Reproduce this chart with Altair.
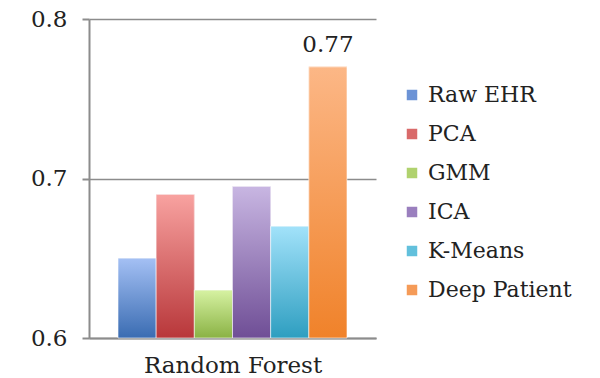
import altair as alt
import pandas as pd

methods = ["Raw EHR", "PCA", "GMM", "ICA", "K-Means", "Deep Patient"]
values = [0.65, 0.69, 0.63, 0.695, 0.67, 0.77]
top_colors = ["#a4c0f4", "#f8a2a0", "#d6f2a2", "#c8b6e2", "#a2e2fa", "#fcb786"]
bottom_colors = ["#3a6cb2", "#b8373a", "#8ab244", "#6f4e96", "#2e9ec0", "#f0822a"]
mid_colors = ["#6c93d6", "#d96a6a", "#b0d26e", "#9a7fbe", "#62c0dc", "#f59b58"]
y_ticks = [0.6, 0.7, 0.8]
group_label = "Random Forest"
annotation = "0.77"

df = pd.DataFrame({"method": methods, "value": values, "group": group_label})
FONT = "DejaVu Serif"

xenc = alt.X("method:N", sort=methods,
             scale=alt.Scale(paddingInner=0, paddingOuter=0.76),
             axis=alt.Axis(title=group_label, labels=False, ticks=False,
                           titleFont=FONT, titleFontSize=23, titleFontWeight="normal",
                           titleColor="#222", titlePadding=16,
                           domainColor="#8c8c8c", domainWidth=2))
yenc = alt.Y("value:Q",
             scale=alt.Scale(domain=[0.6, 0.8], zero=False, nice=False),
             axis=alt.Axis(title=None, values=y_ticks, format=".1f",
                           labelFont=FONT, labelFontSize=23, labelColor="#222",
                           labelPadding=15, tickSize=7, tickColor="#8c8c8c", tickWidth=2,
                           domainColor="#8c8c8c", domainWidth=2,
                           grid=True, gridColor="#8c8c8c", gridWidth=1.5))

base = alt.Chart(df)

legend_layer = base.mark_bar().encode(
    x=xenc, y=yenc, y2=alt.datum(0.6),
    color=alt.Color("method:N", sort=methods,
                    scale=alt.Scale(domain=methods, range=mid_colors),
                    legend=alt.Legend(title=None, orient="none", legendX=312, legendY=65,
                                      symbolType="square", symbolSize=110,
                                      symbolStrokeWidth=0, labelFont=FONT,
                                      labelFontSize=22, labelColor="#222",
                                      rowPadding=17, labelOffset=5, labelLimit=300)),
)

layers = [legend_layer]
for m, t, b in zip(methods, top_colors, bottom_colors):
    grad = alt.Gradient(gradient="linear",
                        stops=[alt.GradientStop(color=t, offset=0),
                               alt.GradientStop(color=b, offset=1)],
                        x1=0, x2=0, y1=0, y2=1)
    layers.append(
        base.transform_filter(alt.datum.method == m).mark_bar(color=grad, stroke="white",
                                                             strokeWidth=0.6).encode(
            x=xenc, y=yenc, y2=alt.datum(0.6))
    )

text_layer = base.transform_filter(alt.datum.value == max(values)).mark_text(
    font=FONT, fontSize=23, color="#222", dy=-22
).encode(x=xenc, y=yenc, text=alt.value(annotation))
layers.append(text_layer)

chart = alt.layer(*layers).properties(
    width=287, height=319,
    autosize=alt.AutoSizeParams(type="none"),
    padding={"left": 89, "top": 19, "right": 224, "bottom": 40},
    background="white",
).configure_view(stroke=None)

chart.save("out.html", embed_options={"renderer": "svg", "actions": False})
